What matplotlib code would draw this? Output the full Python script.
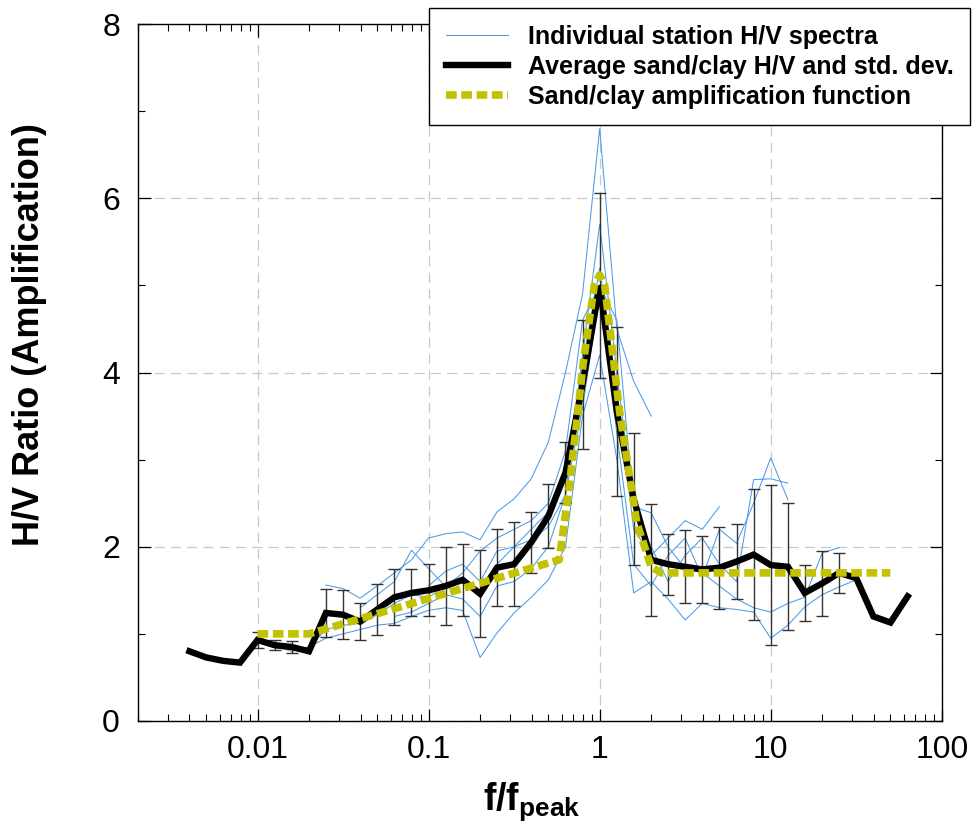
import numpy as np
import matplotlib
matplotlib.use("Agg")
import matplotlib.pyplot as plt
from matplotlib.ticker import FixedLocator, NullFormatter, LogLocator

plt.rcParams['font.family'] = ['Liberation Sans', 'DejaVu Sans']
plt.rcParams['mathtext.fontset'] = 'custom'
plt.rcParams['mathtext.rm'] = 'Liberation Sans'
plt.rcParams['mathtext.bf'] = 'Liberation Sans:bold'

# ---------------- data ----------------
f_avg = [0.0040, 0.0050, 0.0063, 0.0079, 0.0100, 0.0126, 0.0158, 0.0200, 0.0251,
         0.0316, 0.0398, 0.0501, 0.0631, 0.0794, 0.100, 0.126, 0.158, 0.200, 0.251,
         0.316, 0.398, 0.501, 0.631, 0.794, 1.00, 1.26, 1.58, 2.00, 2.51, 3.16, 3.98,
         5.01, 6.31, 7.94, 10.0, 12.6, 15.8, 20.0, 25.1, 31.6, 39.8, 50.1, 63.1]
hv_avg = [0.80, 0.73, 0.69, 0.67, 0.93, 0.87, 0.85, 0.80, 1.24,
          1.22, 1.14, 1.28, 1.42, 1.47, 1.50, 1.55, 1.62, 1.46, 1.76,
          1.80, 2.05, 2.35, 2.85, 3.86, 5.00, 3.55, 2.55, 1.85, 1.80, 1.77, 1.74,
          1.76, 1.83, 1.91, 1.79, 1.77, 1.47, 1.58, 1.70, 1.64, 1.20, 1.13, 1.43]
hv_std = [np.nan, np.nan, np.nan, np.nan, 0.09, 0.06, 0.07, np.nan, 0.28,
          0.28, 0.21, 0.29, 0.32, 0.27, 0.30, 0.45, 0.41, 0.50, 0.44,
          0.48, 0.35, 0.37, 0.35, 0.74, 1.06, 0.97, 0.76, 0.64, 0.35, 0.42, 0.38,
          0.47, 0.43, 0.75, 0.92, 0.73, 0.32, 0.37, 0.23, np.nan, np.nan, np.nan, np.nan]

f_amp = [0.010, 0.020, 0.58, 0.66, 0.74, 0.80, 0.93, 1.00, 1.07, 1.31, 1.65, 2.00, 2.30, 50.0]
hv_amp = [1.00, 1.00, 1.85, 2.65, 3.49, 4.10, 5.00, 5.12, 5.00, 3.54, 2.27, 1.77, 1.70, 1.70]

# individual stations
st1_f = [0.0251, 0.0316, 0.0398, 0.0501, 0.0631, 0.0794, 0.100, 0.126, 0.158, 0.200,
         0.251, 0.316, 0.398, 0.501, 0.631, 0.794, 1.00, 1.26, 1.58, 2.00]
st1_hv = [1.56, 1.52, 1.41, 1.55, 1.70, 1.85, 2.10, 2.15, 2.17, 2.08,
          2.40, 2.55, 2.78, 3.20, 4.00, 4.90, 6.80, 4.50, 3.90, 3.50]

st2_f = [0.0100, 0.0126, 0.0158, 0.0200, 0.0251, 0.0316, 0.0398, 0.0501, 0.0631, 0.0794,
         0.100, 0.126, 0.158, 0.200, 0.251, 0.316, 0.398, 0.501, 0.631, 0.794, 1.00,
         1.26, 1.58, 2.00, 2.51, 3.16, 3.98, 5.01, 6.31, 7.94, 10.0, 12.6, 15.8, 20.0,
         25.1, 31.6]
st2_hv = [0.90, 0.84, 0.82, 0.85, 0.95, 1.00, 1.05, 1.10, 1.12, 1.20,
          1.27, 1.30, 1.27, 0.73, 1.01, 1.24, 1.42, 1.62, 2.00, 3.50, 4.20,
          3.00, 1.47, 1.60, 1.40, 1.16, 1.35, 1.30, 1.28, 1.25, 0.95, 1.10, 1.31, 1.45,
          1.54, 1.62]

st3_f = [0.0126, 0.0158, 0.0200, 0.0251, 0.0316, 0.0398, 0.0501, 0.0631, 0.0794,
         0.100, 0.126, 0.158, 0.200, 0.251, 0.316, 0.398, 0.501, 0.631, 0.794, 1.00,
         1.26, 1.58, 2.00, 2.51, 3.16, 3.98, 5.01, 6.31, 7.94, 10.0, 12.6, 15.8, 20.0,
         25.1]
st3_hv = [0.86, 0.80, 0.84, 1.05, 1.10, 1.12, 1.22, 1.35, 1.45,
          1.42, 1.55, 1.60, 1.45, 1.80, 2.00, 2.08, 2.23, 2.60, 4.20, 5.70,
          4.00, 2.46, 2.39, 2.00, 1.75, 1.70, 1.55, 1.40, 1.30, 1.25, 1.35, 1.42, 1.93,
          1.99]

st4_f = [0.0398, 0.0501, 0.0631, 0.0794, 0.100, 0.126, 0.158, 0.200, 0.251, 0.316,
         0.398, 0.501, 0.631, 0.794, 1.00, 1.26, 1.58, 2.00, 2.51, 3.16, 3.98, 5.01,
         6.31, 7.94, 10.0, 12.6]
st4_hv = [1.30, 1.45, 1.60, 1.96, 1.75, 1.54, 1.70, 1.95, 2.10, 2.20,
          2.30, 2.50, 3.10, 4.60, 5.00, 4.60, 2.46, 2.00, 1.60, 1.90, 2.10, 1.80,
          1.60, 2.77, 2.78, 2.73]

st5_f = [0.0631, 0.0794, 0.100, 0.126, 0.158, 0.200, 0.251, 0.316, 0.398, 0.501,
         0.631, 0.794, 1.00, 1.26, 1.58, 2.00, 2.51, 3.16, 3.98, 5.01, 6.31, 7.94,
         10.0, 12.6]
st5_hv = [1.20, 1.25, 1.35, 1.45, 1.40, 1.20, 1.55, 1.60, 1.75, 2.00,
          2.60, 3.60, 4.90, 3.30, 1.80, 1.55, 1.90, 2.10, 1.65, 2.20, 2.04, 2.50,
          3.02, 2.54]

st6_f = [0.100, 0.126, 0.158, 0.200, 0.251, 0.316, 0.398, 0.501, 0.631, 0.794, 1.00,
         1.26, 1.58, 2.00, 2.51, 3.16, 3.98, 5.01]
st6_hv = [1.55, 1.72, 1.80, 1.60, 1.95, 2.00, 2.20, 2.40, 2.90, 4.10, 5.20,
          3.80, 2.20, 1.90, 2.10, 2.30, 2.20, 2.46]

stations = [(st1_f, st1_hv), (st2_f, st2_hv), (st3_f, st3_hv),
            (st4_f, st4_hv), (st5_f, st5_hv), (st6_f, st6_hv)]

x_ticks = [0.01, 0.1, 1, 10, 100]
x_ticklabels = ['0.01', '0.1', '1', '10', '100']
y_ticks = [0, 2, 4, 6, 8]

# ---------------- plot ----------------
fig = plt.figure(figsize=(9.77, 8.31), dpi=100)
ax = fig.add_axes([0.1412, 0.1324, 0.8228, 0.8386])

blue = '#4a9be8'
for i, (sf, sh) in enumerate(stations):
    ax.plot(sf, sh, color=blue, lw=0.75, zorder=2,
            label='Individual station H/V spectra' if i == 0 else None)

f_avg_a = np.array(f_avg)
hv_avg_a = np.array(hv_avg)
hv_std_a = np.array(hv_std)
m = ~np.isnan(hv_std_a)
ax.errorbar(f_avg_a[m], hv_avg_a[m], yerr=hv_std_a[m], fmt='none',
            ecolor='#333333', elinewidth=1.0, capsize=4.5, capthick=1.0, zorder=3)

ax.plot(f_avg, hv_avg, color='black', lw=4.6, solid_joinstyle='miter', zorder=4,
        label='Average sand/clay H/V and std. dev.')
ax.plot(f_amp, hv_amp, color='#c2c200', lw=5.5, ls=(0, (1.4, 0.6)), zorder=5,
        dash_capstyle='butt', label='Sand/clay amplification function')

ax.set_xscale('log')
ax.set_xlim(0.002, 100)
ax.set_ylim(0, 8)
ax.xaxis.set_major_locator(FixedLocator(x_ticks))
ax.set_xticklabels(x_ticklabels)
ax.xaxis.set_minor_locator(LogLocator(base=10, subs=np.arange(2, 10)))
ax.xaxis.set_minor_formatter(NullFormatter())
ax.set_yticks(y_ticks)
ax.set_yticks([1, 3, 5, 7], minor=True)

ax.tick_params(which='both', direction='in', top=True, right=True, labelsize=23)
ax.tick_params(axis='y', pad=13)
ax.tick_params(axis='x', pad=10)
ax.tick_params(which='major', length=9, width=0.9)
ax.tick_params(which='minor', length=5, width=0.8)
for s in ax.spines.values():
    s.set_linewidth(1.0)

ax.grid(True, which='major', color='#c8c8c8', ls=(0, (8, 5)), lw=0.9)
ax.set_axisbelow(True)

ax.set_ylabel('H/V Ratio (Amplification)', fontsize=26, fontweight='bold')
ax.yaxis.set_label_coords(-0.113, 0.555)
ax.set_xlabel(r'$\mathbf{f/f}_{\mathbf{peak}}$', fontsize=27)
ax.xaxis.set_label_coords(0.49, -0.085)

leg = fig.legend(loc='upper right', bbox_to_anchor=(0.993, 0.99),
                 bbox_transform=fig.transFigure,
                 prop={'weight': 'bold', 'size': 18},
                 frameon=True, fancybox=False, edgecolor='black', framealpha=1,
                 handlelength=2.5, borderpad=0.65, labelspacing=0.25, handletextpad=0.8,
                 borderaxespad=0)
leg.get_frame().set_linewidth(1.0)
leg.set_zorder(10)

fig.savefig('out.png', dpi=100)
